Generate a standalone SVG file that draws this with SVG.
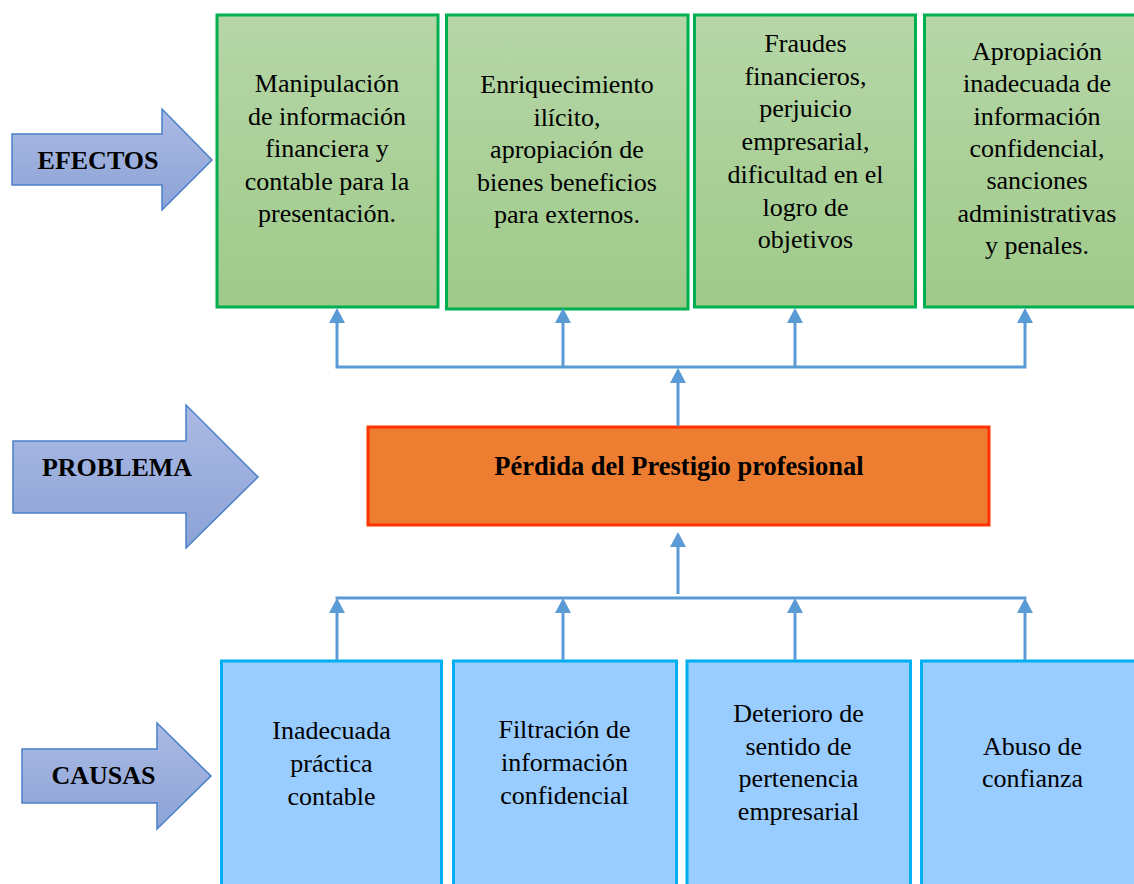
<svg xmlns="http://www.w3.org/2000/svg" width="1134" height="884" viewBox="0 0 1134 884">
<defs>
<linearGradient id="gGreen" x1="0" y1="0" x2="0" y2="1">
<stop offset="0" stop-color="#B6D6A7"/>
<stop offset="1" stop-color="#9FCA8A"/>
</linearGradient>
<linearGradient id="gArrow" x1="0" y1="0" x2="0" y2="1">
<stop offset="0" stop-color="#ABBAE3"/>
<stop offset="1" stop-color="#8CA3D7"/>
</linearGradient>
<marker id="ah" markerUnits="userSpaceOnUse" markerWidth="16" markerHeight="16" refX="0" refY="8" orient="auto">
<path d="M0,0 L15,8 L0,16 z" fill="#5B9BD5"/>
</marker>
<style>
.green{fill:url(#gGreen);stroke:#00B050;stroke-width:3}
.blue{fill:#99CCFF;stroke:#00B0F0;stroke-width:3}
.orange{fill:#ED7D31;stroke:#FF3300;stroke-width:3}
.side{fill:url(#gArrow);stroke:#4A80C8;stroke-width:1.5}
.t{font-family:"Liberation Serif","Times New Roman",serif;font-size:26px;fill:#000;text-anchor:middle}
.b{font-family:"Liberation Serif","Times New Roman",serif;font-size:26px;font-weight:bold;fill:#000;text-anchor:middle}
.c{fill:none;stroke:#5B9BD5;stroke-width:3}
</style>
</defs>
<rect width="1134" height="884" fill="#FFFFFF"/>

<g id="lbl-efectos">
<polygon class="side" points="12,134 162,134 162,109 212,160 162,210 162,185 12,185"/>
<text class="b" x="98" y="169">EFECTOS</text>
</g>
<g id="lbl-problema">
<polygon class="side" points="13,441 186,441 186,405 258,477 186,548 186,513 13,513"/>
<text class="b" x="117" y="476">PROBLEMA</text>
</g>
<g id="lbl-causas">
<polygon class="side" points="22,749 157,749 157,723 211,776 157,829 157,803 22,803"/>
<text class="b" x="103.5" y="784">CAUSAS</text>
</g>

<g id="efecto1">
<rect class="green" x="217" y="15" width="221" height="292"/>
<text class="t" x="327"><tspan x="327" y="92">Manipulación</tspan><tspan x="327" y="124.5">de información</tspan><tspan x="327" y="157">financiera y</tspan><tspan x="327" y="189.5">contable para la</tspan><tspan x="327" y="222">presentación.</tspan></text>
</g>
<g id="efecto2">
<rect class="green" x="446.5" y="15" width="241.5" height="294"/>
<text class="t" x="567"><tspan x="567" y="93">Enriquecimiento</tspan><tspan x="567" y="125.5">ilícito,</tspan><tspan x="567" y="158">apropiación de</tspan><tspan x="567" y="190.5">bienes beneficios</tspan><tspan x="567" y="223">para externos.</tspan></text>
</g>
<g id="efecto3">
<rect class="green" x="694.5" y="15" width="221" height="292"/>
<text class="t" x="805.5"><tspan x="805.5" y="52">Fraudes</tspan><tspan x="805.5" y="84.7">financieros,</tspan><tspan x="805.5" y="117.4">perjuicio</tspan><tspan x="805.5" y="150.1">empresarial,</tspan><tspan x="805.5" y="182.8">dificultad en el</tspan><tspan x="805.5" y="215.5">logro de</tspan><tspan x="805.5" y="248.2">objetivos</tspan></text>
</g>
<g id="efecto4">
<rect class="green" x="924.5" y="15" width="240" height="292"/>
<text class="t" x="1037"><tspan x="1037" y="60">Apropiación</tspan><tspan x="1037" y="92.3">inadecuada de</tspan><tspan x="1037" y="124.6">información</tspan><tspan x="1037" y="156.9">confidencial,</tspan><tspan x="1037" y="189.2">sanciones</tspan><tspan x="1037" y="221.5">administrativas</tspan><tspan x="1037" y="253.8">y penales.</tspan></text>
</g>

<g id="problema">
<rect class="orange" x="368" y="427" width="621" height="98"/>
<text class="b" x="679" y="475" style="font-size:26.5px">Pérdida del Prestigio profesional</text>
</g>

<g id="causa1">
<rect class="blue" x="221.5" y="661" width="220" height="240"/>
<text class="t" x="331.5"><tspan x="331.5" y="739">Inadecuada</tspan><tspan x="331.5" y="772">práctica</tspan><tspan x="331.5" y="805">contable</tspan></text>
</g>
<g id="causa2">
<rect class="blue" x="453.5" y="661" width="223" height="240"/>
<text class="t" x="564.5"><tspan x="564.5" y="738">Filtración de</tspan><tspan x="564.5" y="771">información</tspan><tspan x="564.5" y="804">confidencial</tspan></text>
</g>
<g id="causa3">
<rect class="blue" x="687" y="661" width="223.5" height="240"/>
<text class="t" x="798.5"><tspan x="798.5" y="722">Deterioro de</tspan><tspan x="798.5" y="754.5">sentido de</tspan><tspan x="798.5" y="787">pertenencia</tspan><tspan x="798.5" y="819.5">empresarial</tspan></text>
</g>
<g id="causa4">
<rect class="blue" x="921.5" y="661" width="230" height="240"/>
<text class="t" x="1032.5"><tspan x="1032.5" y="754.5">Abuso de</tspan><tspan x="1032.5" y="787">confianza</tspan></text>
</g>

<g id="connectors">
<line class="c" x1="678" y1="426" x2="678" y2="383" marker-end="url(#ah)"/>
<polyline class="c" points="337,323 337,367 1025,367 1025,323"/>
<line class="c" x1="337" y1="324" x2="337" y2="323" marker-end="url(#ah)"/>
<line class="c" x1="1025" y1="324" x2="1025" y2="323" marker-end="url(#ah)"/>
<line class="c" x1="563" y1="367" x2="563" y2="323" marker-end="url(#ah)"/>
<line class="c" x1="795" y1="367" x2="795" y2="323" marker-end="url(#ah)"/>

<line class="c" x1="678" y1="594" x2="678" y2="547" marker-end="url(#ah)"/>
<line class="c" x1="335.5" y1="598" x2="1026.5" y2="598"/>
<line class="c" x1="337" y1="660" x2="337" y2="613" marker-end="url(#ah)"/>
<line class="c" x1="563" y1="660" x2="563" y2="613" marker-end="url(#ah)"/>
<line class="c" x1="795" y1="660" x2="795" y2="613" marker-end="url(#ah)"/>
<line class="c" x1="1025" y1="660" x2="1025" y2="613" marker-end="url(#ah)"/>
</g>
</svg>
